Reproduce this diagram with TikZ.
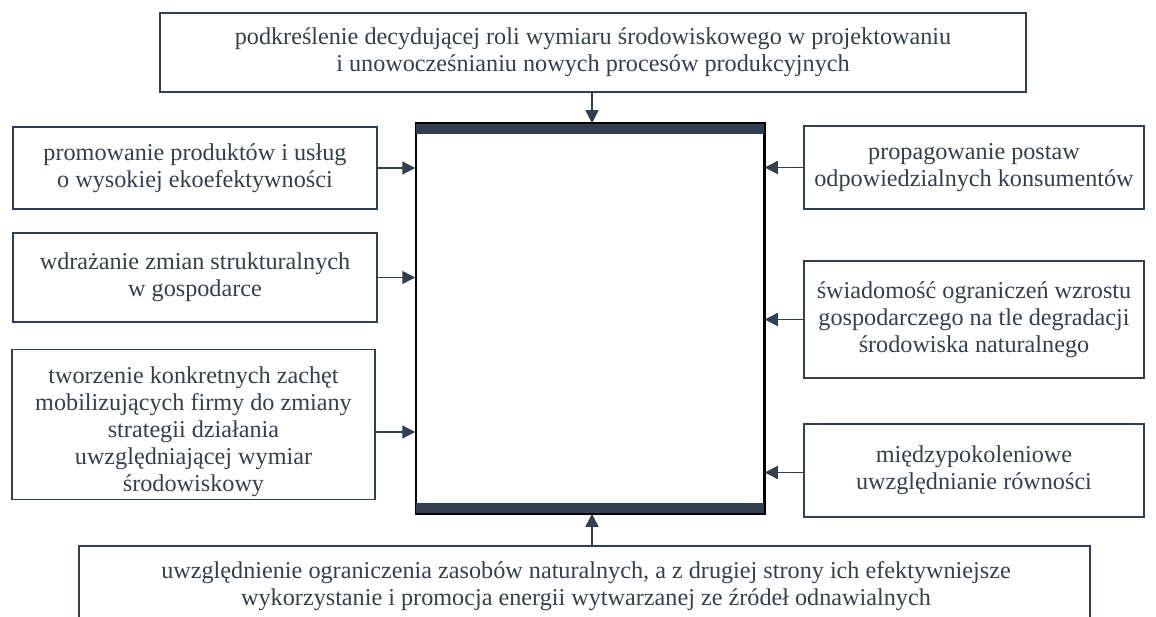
\documentclass[tikz,border=0pt]{standalone}
\usepackage{fontspec}
\setmainfont{Liberation Serif}
\usetikzlibrary{arrows.meta,calc}
\definecolor{slate}{RGB}{51,63,80}
\definecolor{txt}{RGB}{55,62,75}
\tikzset{
  box/.style={draw=slate, line width=1.5pt, rectangle, inner sep=0pt, align=center,
    text=txt, font=\fontsize{24.2}{27}\selectfont},
  arr/.style={draw=slate, line width=1.4pt, -{Triangle[length=13pt,width=13pt]}, shorten >=0pt},
}
\begin{document}
\begin{tikzpicture}[x=1pt,y=-1pt]
\useasboundingbox (0,0) rectangle (1156,617);
\clip (0,0) rectangle (1156,617);
% central box
\node[draw=black, line width=1.5pt, rectangle, minimum width=348pt, minimum height=389pt, inner sep=0pt] (c) at (590,318.5) {};
\fill[slate] (c.north west) rectangle ($(c.north east)+(0,11)$);
\fill[slate] ($(c.south west)+(0,-11)$) rectangle (c.south east);
\draw[black, line width=1.5pt] (c.north west) rectangle (c.south east);
% top box
\node[box, minimum width=866pt, minimum height=79pt] (top) at (593,52.5)
  {podkreślenie decydującej roli wymiaru środowiskowego w projektowaniu\\ i unowocześnianiu nowych procesów produkcyjnych};
% left boxes
\node[box, minimum width=364pt, minimum height=82pt] (l1) at (195,168)
  {promowanie produktów i usług\\ o wysokiej ekoefektywności};
\node[box, minimum width=364pt, minimum height=89pt] (l2) at (195,277.5)
  {wdrażanie zmian strukturalnych\\ w gospodarce};
\node[box, minimum width=363pt, minimum height=150pt] (l3) at (193.5,424.5) {};
\node[box, draw=none] (l3t) at (193.5,432)
  {tworzenie konkretnych zachęt\\ mobilizujących firmy do zmiany\\ strategii działania\\ uwzględniającej wymiar\\ środowiskowy};
% right boxes
\node[box, minimum width=340pt, minimum height=83pt] (r1) at (974,167.5)
  {propagowanie postaw\\ odpowiedzialnych konsumentów};
\node[box, minimum width=340pt, minimum height=117pt] (r2) at (974,319.5)
  {świadomość ograniczeń wzrostu\\ gospodarczego na tle degradacji\\ środowiska naturalnego};
\node[box, minimum width=340pt, minimum height=93pt] (r3) at (974,470.5)
  {międzypokoleniowe\\ uwzględnianie równości};
% bottom box (open at the bottom edge of the picture)
\node[box, minimum width=1011pt, minimum height=84pt, anchor=north] (bot) at (584.5,545) {};
\node[box, draw=none] (bottxt) at (586,586.5)
  {uwzględnienie ograniczenia zasobów naturalnych, a z drugiej strony ich efektywniejsze\\ wykorzystanie i promocja energii wytwarzanej ze źródeł odnawialnych};
% connectors
\draw[arr] (top.south -| 592,0) -- (c.north -| 592,0);
\draw[arr] (bot.north -| 592,0) -- (c.south -| 592,0);
\draw[arr] (l1.east) -- (l1.east -| c.west);
\draw[arr] (l2.east) -- (l2.east -| c.west);
\draw[arr] (l3t.center -| l3.east) -- (l3t.center -| c.west);
\draw[arr] (r1.west) -- (r1.west -| c.east);
\draw[arr] (r2.west) -- (r2.west -| c.east);
\draw[arr] ($(r3.west)+(0,2)$) -- ($(r3.west -| c.east)+(0,2)$);
\end{tikzpicture}
\end{document}
